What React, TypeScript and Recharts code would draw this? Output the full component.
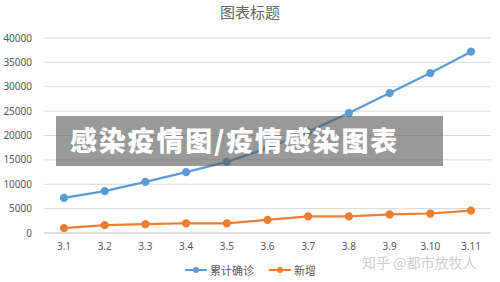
import React from 'react';
import { LineChart, Line, XAxis, YAxis, CartesianGrid, Legend } from 'recharts';

const dates = ['3.1', '3.2', '3.3', '3.4', '3.5', '3.6', '3.7', '3.8', '3.9', '3.10', '3.11'];
const confirmed = [7200, 8600, 10500, 12500, 14600, 17400, 20800, 24600, 28700, 32800, 37200];
const newCases = [1000, 1600, 1800, 2000, 2000, 2700, 3400, 3400, 3800, 4000, 4600];
const yTicks = [0, 5000, 10000, 15000, 20000, 25000, 30000, 35000, 40000];

const seriesNames = { confirmed: '累计确诊', newCases: '新增' };
const chartTitle = '图表标题';
const bannerText = '感染疫情图/疫情感染图表';
const watermark = '知乎 @都市放牧人';

const BLUE = '#5B9BD5';
const ORANGE = '#ED7D31';
const cjk = '"Noto Sans CJK SC", "Noto Sans", sans-serif';

const data = dates.map((d, i) => ({
    date: d,
    confirmed: confirmed[i],
    newCases: newCases[i],
}));

const LegendContent = () => {
    const items = [
        { label: seriesNames.confirmed, color: BLUE },
        { label: seriesNames.newCases, color: ORANGE },
    ];
    return (
        <div style={{ display: 'flex', gap: 14, fontFamily: cjk, fontSize: 11, color: '#595959' }}>
            {items.map((it) => (
                <div key={it.label} style={{ display: 'flex', alignItems: 'center' }}>
                    <svg width={24} height={10} style={{ marginRight: 2 }}>
                        <line x1={1} y1={5} x2={23} y2={5} stroke={it.color} strokeWidth={2} />
                        <circle cx={12} cy={5} r={3} fill={it.color} />
                    </svg>
                    <span>{it.label}</span>
                </div>
            ))}
        </div>
    );
};

export default function App() {
    return (
        <div style={{ position: 'absolute', left: 0, top: 0, width: 500, height: 282, background: '#fff' }}>
            <div style={{ position: 'absolute', top: 1, width: 500, textAlign: 'center', fontFamily: cjk, fontSize: 15, color: '#666' }}>
                {chartTitle}
            </div>
            <LineChart width={500} height={282} data={data} margin={{ top: 38, right: 9, left: 0, bottom: 0 }}>
                <CartesianGrid vertical={false} stroke="#D9D9D9" />
                <XAxis
                    dataKey="date"
                    height={49}
                    padding={{ left: 20, right: 20 }}
                    axisLine={{ stroke: '#D0D0D0' }}
                    tickLine={false}
                    tick={{ fill: '#595959', fontSize: 10, fontFamily: '"Noto Sans", sans-serif' }}
                    tickMargin={4}
                />
                <YAxis
                    width={44}
                    domain={[0, 40000]}
                    ticks={yTicks}
                    axisLine={false}
                    tickLine={false}
                    tick={{ fill: '#595959', fontSize: 10, fontFamily: '"Noto Sans", sans-serif' }}
                    tickMargin={6}
                />
                <Legend
                    verticalAlign="middle"
                    layout="horizontal"
                    content={<LegendContent />}
                    wrapperStyle={{ position: 'absolute', top: 262, left: 184, width: 'auto' }}
                />
                <Line
                    type="linear"
                    dataKey="confirmed"
                    name={seriesNames.confirmed}
                    stroke={BLUE}
                    strokeWidth={2.25}
                    dot={{ r: 3, fill: BLUE, stroke: BLUE }}
                    isAnimationActive={false}
                />
                <Line
                    type="linear"
                    dataKey="newCases"
                    name={seriesNames.newCases}
                    stroke={ORANGE}
                    strokeWidth={2.25}
                    dot={{ r: 3, fill: ORANGE, stroke: ORANGE }}
                    isAnimationActive={false}
                />
            </LineChart>
            <div
                style={{
                    position: 'absolute',
                    left: 56,
                    top: 116,
                    width: 387,
                    height: 50,
                    background: 'rgba(90,90,90,0.62)',
                    color: '#fff',
                    fontFamily: cjk,
                    fontWeight: 900,
                    fontSize: 27,
                    letterSpacing: 1.8,
                    lineHeight: '48px',
                    paddingLeft: 14,
                    boxSizing: 'border-box',
                    whiteSpace: 'nowrap',
                }}
            >
                {bannerText}
            </div>
            <div style={{ position: 'absolute', left: 362, top: 254, lineHeight: '17px', fontFamily: cjk, fontSize: 14, color: '#CFCFCF' }}>
                {watermark}
            </div>
        </div>
    );
}
